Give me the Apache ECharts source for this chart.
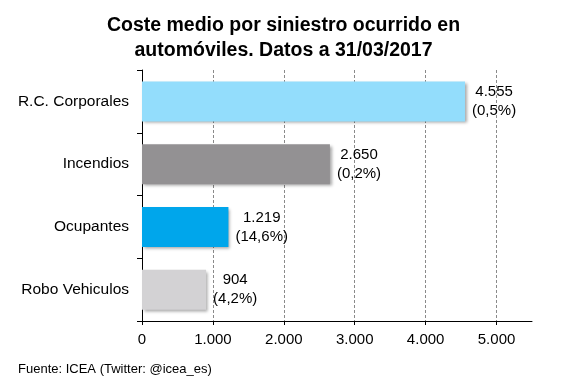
<!DOCTYPE html>
<html><head><meta charset="utf-8">
<script src="https://cdn.jsdelivr.net/npm/echarts@6/dist/echarts.min.js"></script>
<style>html,body{margin:0;padding:0;background:#fff}#c{width:567px;height:378px}</style>
</head><body><div id="c"></div>
<script>
var categories = ['R.C. Corporales', 'Incendios', 'Ocupantes', 'Robo Vehiculos'];
var values = [4555, 2650, 1219, 904];
var shares = ['0,5%', '0,2%', '14,6%', '4,2%'];
var colors = ['#93DDFC', '#939193', '#00A6EB', '#D3D2D4'];
var xTicks = [0, 1000, 2000, 3000, 4000, 5000];

function fmt(v) { return String(v).replace(/\B(?=(\d{3})+(?!\d))/g, '.'); }

var chart = echarts.init(document.getElementById('c'), null, {renderer: 'canvas'});
chart.setOption({
  animation: false,
  backgroundColor: '#fff',
  title: [{
    text: 'Coste medio por siniestro ocurrido en\nautomóviles. Datos a 31/03/2017',
    left: 'center', top: 8,
    textStyle: {fontFamily: 'Liberation Sans', fontSize: 19.5, fontWeight: 'bold', color: '#000', lineHeight: 25}
  }, {
    text: 'Fuente: ICEA (Twitter: @icea_es)',
    left: 13, top: 358,
    textStyle: {fontFamily: 'Liberation Sans', fontSize: 13, fontWeight: 'normal', color: '#000'}
  }],
  grid: {left: 142, right: 35, top: 70, bottom: 57, containLabel: false},
  xAxis: {
    type: 'value', min: 0, max: 5500, interval: 1000,
    axisLine: {show: true, lineStyle: {color: '#000', width: 1}},
    axisTick: {show: true, length: 4, lineStyle: {color: '#000'}},
    axisLabel: {
      fontFamily: 'Liberation Sans', fontSize: 15, color: '#000', margin: 11,
      showMaxLabel: false,
      formatter: function (v) { return xTicks.indexOf(v) >= 0 ? fmt(v) : ''; }
    },
    splitLine: {show: true, showMinLine: false, showMaxLine: false, lineStyle: {color: '#8a8a8a', type: [3, 2], width: 1}}
  },
  yAxis: {
    type: 'category', data: categories, inverse: true,
    axisLine: {show: true, lineStyle: {color: '#000', width: 1}},
    axisTick: {show: true, length: 5, lineStyle: {color: '#000'}},
    axisLabel: {fontFamily: 'Liberation Sans', fontSize: 15.5, color: '#000', margin: 13},
    splitLine: {show: false}
  },
  series: [{
    type: 'bar',
    barWidth: 40,
    data: values.map(function (v, i) {
      return {value: v, itemStyle: {color: colors[i]}};
    }),
    itemStyle: {shadowColor: 'rgba(0,0,0,0.35)', shadowBlur: 3, shadowOffsetX: 2, shadowOffsetY: 2},
    label: {
      show: true, position: 'right', distance: 7,
      formatter: function (p) { return '{a|' + fmt(p.value) + '}\n{a|(' + shares[p.dataIndex] + ')}'; },
      rich: {a: {align: 'center', fontFamily: 'Liberation Sans', fontSize: 15, color: '#000', lineHeight: 19}}
    }
  }]
});
</script></body></html>
